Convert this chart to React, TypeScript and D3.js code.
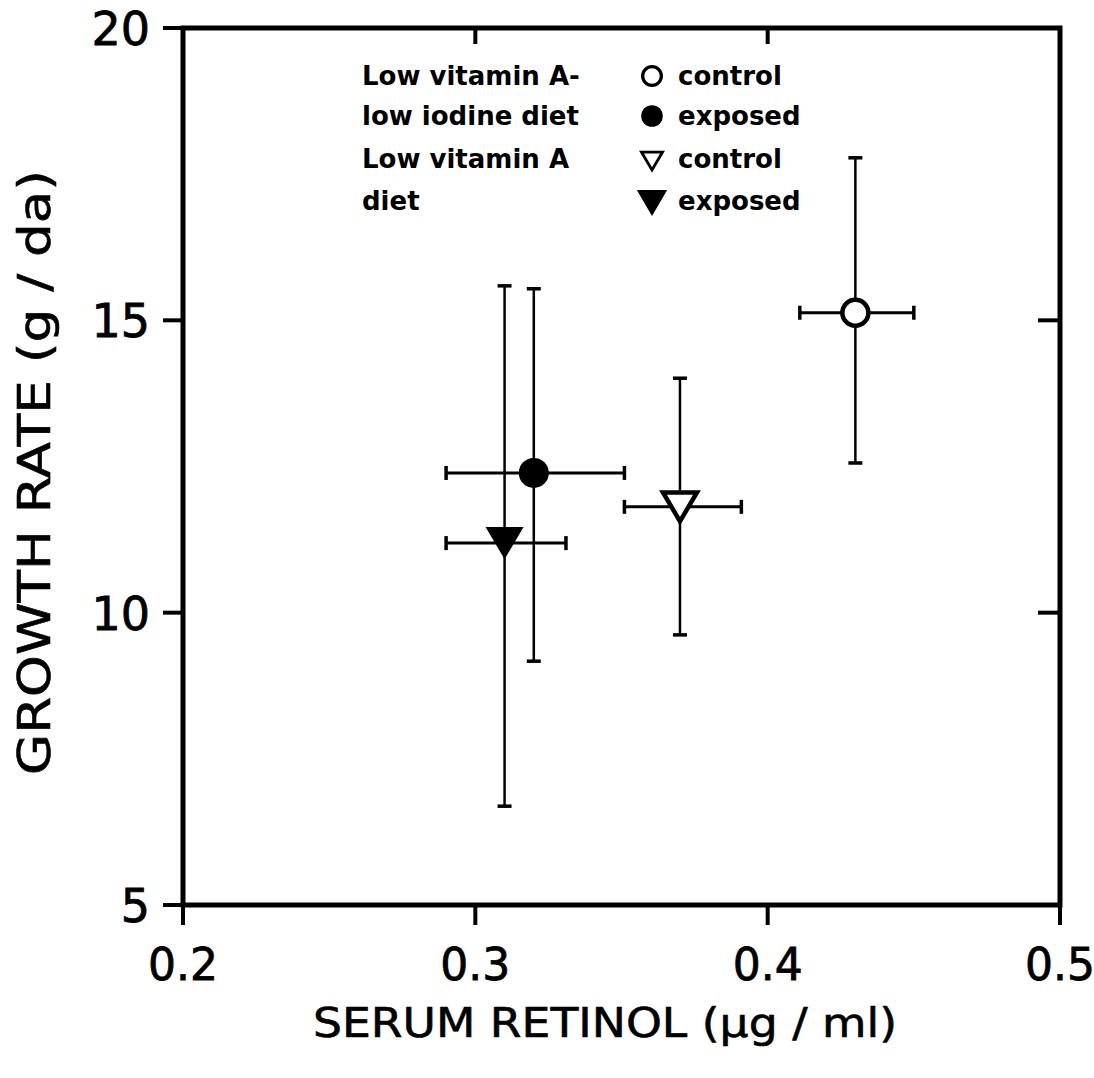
import * as d3 from "d3";
import { useEffect, useRef } from "react";

const width = 1094;
const height = 1078;

// series: Low vit A - low iodine (control, exposed), Low vit A (control, exposed)
const seriesNames = ["LVA-LI control", "LVA-LI exposed", "LVA control", "LVA exposed"];
const retinol = [0.43, 0.32, 0.37, 0.31];
const retinolLo = [0.411, 0.29, 0.351, 0.29];
const retinolHi = [0.45, 0.351, 0.391, 0.331];
const growth = [15.13, 12.39, 11.81, 11.19];
const growthLo = [12.56, 9.17, 9.62, 6.69];
const growthHi = [17.78, 15.54, 14.01, 15.59];

const xTicks = [0.2, 0.3, 0.4, 0.5];
const yTicks = [5, 10, 15, 20];
const xTickLabels = ["0.2", "0.3", "0.4", "0.5"];
const yTickLabels = ["5", "10", "15", "20"];

const legendGroupLines = ["Low vitamin A-", "low iodine diet", "Low vitamin A", "diet"];
const legendLabels = ["control", "exposed", "control", "exposed"];

// marker look per series
const markerStyle = [
  { shape: "circle", filled: false },
  { shape: "circle", filled: true },
  { shape: "triangle", filled: false },
  { shape: "triangle", filled: true },
];

// downward triangle, centered on its bounding box
const triDown = {
  draw(ctx, size) {
    const w = Math.sqrt(size);
    const h = w * 0.85;
    ctx.moveTo(-w / 2, -h / 2);
    ctx.lineTo(w / 2, -h / 2);
    ctx.lineTo(0, h / 2);
    ctx.closePath();
  },
};

const font = "'DejaVu Sans', sans-serif";

export default function App() {
  const svgRef = useRef(null);

  useEffect(() => {
    const svg = d3.select(svgRef.current);
    svg.selectAll("*").remove();

    const x = d3.scaleLinear().domain([0.2, 0.5]).range([183, 1060]);
    const y = d3.scaleLinear().domain([5, 20]).range([905, 28]);
    const [x0, x1] = x.range();
    const [y0, y1] = y.range();

    svg.append("rect").attr("width", width).attr("height", height).attr("fill", "#fff");

    const g = svg.append("g");

    // frame
    g.append("rect")
      .attr("x", x0)
      .attr("y", y1)
      .attr("width", x1 - x0)
      .attr("height", y0 - y1)
      .attr("fill", "none")
      .attr("stroke", "#000")
      .attr("stroke-width", 5);

    // left ticks (outward)
    g.selectAll(".ytick")
      .data(yTicks)
      .enter()
      .append("line")
      .attr("x1", x0 - 20)
      .attr("x2", x0)
      .attr("y1", d => y(d))
      .attr("y2", d => y(d))
      .attr("stroke", "#000")
      .attr("stroke-width", 4);

    // bottom ticks (outward)
    g.selectAll(".xtick")
      .data(xTicks)
      .enter()
      .append("line")
      .attr("x1", d => x(d))
      .attr("x2", d => x(d))
      .attr("y1", y0)
      .attr("y2", y0 + 20)
      .attr("stroke", "#000")
      .attr("stroke-width", 4);

    // top ticks (inward)
    g.selectAll(".ttick")
      .data(xTicks.slice(1, -1))
      .enter()
      .append("line")
      .attr("x1", d => x(d))
      .attr("x2", d => x(d))
      .attr("y1", y1)
      .attr("y2", y1 + 16)
      .attr("stroke", "#000")
      .attr("stroke-width", 4);

    // right ticks (inward)
    g.selectAll(".rtick")
      .data(yTicks.slice(1, -1))
      .enter()
      .append("line")
      .attr("x1", x1 - 22)
      .attr("x2", x1)
      .attr("y1", d => y(d))
      .attr("y2", d => y(d))
      .attr("stroke", "#000")
      .attr("stroke-width", 4);

    // tick labels
    g.selectAll(".ylab")
      .data(yTicks)
      .enter()
      .append("text")
      .attr("x", 150)
      .attr("y", d => y(d) + 17)
      .attr("text-anchor", "end")
      .style("font-family", font)
      .style("font-size", "46px")
      .attr("stroke", "#000")
      .attr("stroke-width", 0.8)
      .text((d, i) => yTickLabels[i]);

    g.selectAll(".xlab")
      .data(xTicks)
      .enter()
      .append("text")
      .attr("x", d => x(d))
      .attr("y", 980)
      .attr("text-anchor", "middle")
      .style("font-family", font)
      .style("font-size", "44px")
      .attr("stroke", "#000")
      .attr("stroke-width", 0.8)
      .text((d, i) => xTickLabels[i]);

    // axis titles
    g.append("text")
      .attr("x", 313)
      .attr("y", 1037)
      .attr("textLength", 584)
      .attr("lengthAdjust", "spacingAndGlyphs")
      .style("font-family", font)
      .style("font-size", "40px")
      .attr("stroke", "#000")
      .attr("stroke-width", 0.6)
      .text("SERUM RETINOL  (µg / ml)");

    g.append("text")
      .attr("transform", "translate(50, 775) rotate(-90)")
      .attr("textLength", 605)
      .attr("lengthAdjust", "spacingAndGlyphs")
      .style("font-family", font)
      .style("font-size", "44px")
      .attr("stroke", "#000")
      .attr("stroke-width", 0.6)
      .text("GROWTH RATE  (g / da)");

    const idx = d3.range(seriesNames.length);

    // error bars
    const eb = g.append("g").attr("stroke", "#000");
    eb.selectAll(".vbar")
      .data(idx)
      .enter()
      .append("line")
      .attr("x1", i => x(retinol[i]))
      .attr("x2", i => x(retinol[i]))
      .attr("y1", i => y(growthLo[i]))
      .attr("y2", i => y(growthHi[i]))
      .attr("stroke-width", 2.5);
    eb.selectAll(".hbar")
      .data(idx)
      .enter()
      .append("line")
      .attr("x1", i => x(retinolLo[i]))
      .attr("x2", i => x(retinolHi[i]))
      .attr("y1", i => y(growth[i]))
      .attr("y2", i => y(growth[i]))
      .attr("stroke-width", 3);

    const capsV = idx.flatMap(i => [
      { cx: x(retinol[i]), cy: y(growthLo[i]) },
      { cx: x(retinol[i]), cy: y(growthHi[i]) },
    ]);
    eb.selectAll(".capv")
      .data(capsV)
      .enter()
      .append("line")
      .attr("x1", d => d.cx - 7)
      .attr("x2", d => d.cx + 7)
      .attr("y1", d => d.cy)
      .attr("y2", d => d.cy)
      .attr("stroke-width", 3.5);

    const capsH = idx.flatMap(i => [
      { cx: x(retinolLo[i]), cy: y(growth[i]) },
      { cx: x(retinolHi[i]), cy: y(growth[i]) },
    ]);
    eb.selectAll(".caph")
      .data(capsH)
      .enter()
      .append("line")
      .attr("x1", d => d.cx)
      .attr("x2", d => d.cx)
      .attr("y1", d => d.cy - 7)
      .attr("y2", d => d.cy + 7)
      .attr("stroke-width", 3.5);

    // markers
    const drawMarker = (sel, st, scale) => {
      if (st.shape === "circle") {
        sel.append("circle")
          .attr("r", st.filled ? 15 * scale : 13 * scale)
          .attr("fill", st.filled ? "#000" : "#fff")
          .attr("stroke", "#000")
          .attr("stroke-width", st.filled ? 0 : 4.5 * scale);
      } else {
        const s = st.filled ? 38 * scale : 34 * scale;
        sel.append("path")
          .attr("d", d3.symbol().type(triDown).size(s * s)())
          .attr("fill", st.filled ? "#000" : "#fff")
          .attr("stroke", "#000")
          .attr("stroke-width", st.filled ? 0 : 4.5 * scale)
          .attr("stroke-linejoin", "miter");
      }
    };

    idx.forEach(i => {
      const m = g.append("g").attr("transform", `translate(${x(retinol[i])}, ${y(growth[i])})`);
      drawMarker(m, markerStyle[i], 1);
    });

    // legend
    const legendRowsY = [85, 125, 168, 210];
    const legendMarkY = [76, 116, 161, 203];
    const lg = g.append("g");
    legendGroupLines.forEach((t, i) => {
      lg.append("text")
        .attr("x", 362)
        .attr("y", legendRowsY[i])
        .style("font-family", font)
        .style("font-size", "26px")
        .style("font-weight", "bold")
        .text(t);
      lg.append("text")
        .attr("x", 678)
        .attr("y", legendRowsY[i])
        .style("font-family", font)
        .style("font-size", "26px")
        .style("font-weight", "bold")
        .text(legendLabels[i]);
      const m = lg.append("g").attr("transform", `translate(652, ${legendMarkY[i]})`);
      const st = markerStyle[i];
      drawMarker(m, st, st.shape === "circle" ? 0.72 : i === 3 ? 0.8 : 0.62);
    });
  }, []);

  return (
    <svg
      ref={svgRef}
      width={width}
      height={height}
      style={{ position: "absolute", left: 0, top: 0, background: "#fff" }}
    />
  );
}
